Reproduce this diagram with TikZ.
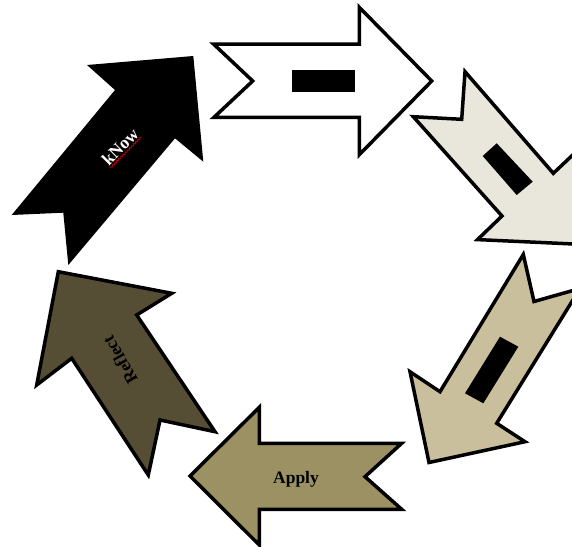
\documentclass[tikz,border=0pt]{standalone}
\usepackage{fontspec}
\setmainfont{Liberation Serif}
\usetikzlibrary{decorations.pathmorphing}
\definecolor{stageone}{HTML}{000000}
\definecolor{stagetwo}{HTML}{FFFFFF}
\definecolor{stagethree}{HTML}{E9E7DC}
\definecolor{stagefour}{HTML}{C9BF9C}
\definecolor{stagefive}{HTML}{9B9163}
\definecolor{stagesix}{HTML}{554D34}
\begin{document}
\begin{tikzpicture}[x=1pt,y=-1pt,
  chevron/.style={draw=black, line width=3.5pt, line join=miter},
  bar/.style={fill=black},
  cycletext/.style={font=\fontsize{17.5}{20}\selectfont\bfseries, inner sep=0pt},
  spellmark/.style={draw=red!70!black, line width=1pt, decorate,
    decoration={snake, amplitude=0.7pt, segment length=3pt}}]
\useasboundingbox (0,0) rectangle (572,546);
\clip (0,0) rectangle (572,546);

% stage 1: pointing up-right
\fill[stageone] (193.3,56) -- (203.3,161.7) -- (175,138.3) -- (68.3,265)
  -- (63.3,212.7) -- (11.7,215) -- (115,90) -- (87,65) -- cycle;

% stage 2: pointing right
\filldraw[chevron, fill=stagetwo] (213.5,44) -- (252.7,81) -- (214,117.3)
  -- (359.3,117.3) -- (359.3,154.7) -- (431.7,81) -- (359.3,7.3)
  -- (359.3,44) -- cycle;
\fill[bar] (291.7,70) rectangle (355,91.7);

% stage 3: pointing down-right
\filldraw[chevron, fill=stagethree] (465,71.7) -- (553.3,173.3) -- (578,150)
  -- (574,244) -- (477.5,239.6) -- (502,216) -- (413.3,116.7)
  -- (461.7,119.3) -- cycle;
\fill[bar] (482.7,156) -- (496.7,143.3) -- (532.7,181.7) -- (516.7,195) -- cycle;

% stage 4: pointing down-left
\filldraw[chevron, fill=stagefour] (523.3,254.5) -- (534,301.5) -- (580,288.5)
  -- (496.7,423.3) -- (525,441.7) -- (429,462.5) -- (410,371.7)
  -- (440,391.7) -- cycle;
\fill[bar] (500,336.7) -- (518.3,346.7) -- (483.3,403.3) -- (465,393.3) -- cycle;

% stage 5: pointing left
\filldraw[chevron, fill=stagefive] (190,476) -- (259.3,407.3) -- (259.3,443.3)
  -- (401.7,443.3) -- (365,476.7) -- (401.7,509.3) -- (259.3,509.3)
  -- (259.3,545) -- cycle;

% stage 6: pointing up-left
\filldraw[chevron, fill=stagesix] (58.3,271.7) -- (171.7,293.3) -- (136.7,315)
  -- (215,431.7) -- (160,420) -- (148.3,475) -- (71.7,358.3)
  -- (36.7,385) -- cycle;

% labels
\begin{scope}[shift={(120,147)}, rotate=45]
  \node[cycletext, text=white, transform shape] (know) at (0,0) {kNow};
  \draw[spellmark] (-22,8) -- (22,8);
\end{scope}
\node[cycletext, anchor=base] (apply) at (296,483.3) {Apply};
\node[cycletext, rotate=120] (reflect) at (120,360) {Reflect};
\end{tikzpicture}
\end{document}
